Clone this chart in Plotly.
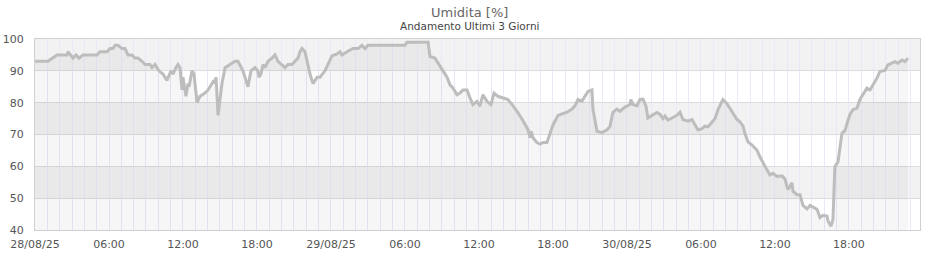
import plotly.graph_objects as go

# hours since 28/08/25 00:00
hours = [0, 1.05, 1.78, 2.59, 2.68, 3.08, 3.32, 3.57, 3.89, 5.03, 5.27, 5.84, 6.08, 6.32, 6.49, 6.73,
         7.05, 7.30, 7.54, 7.86, 8.11, 8.35, 8.68, 8.92, 9.32, 9.49, 9.73, 10.05, 10.38, 10.70, 11.03,
         11.19, 11.43, 11.59, 11.76, 11.92, 12.00, 12.24, 12.41, 12.49, 12.73, 12.89, 13.14, 13.38,
         13.78, 14.03, 14.35, 14.51, 14.59, 14.68, 14.84, 15.16, 15.41, 15.81, 16.22, 16.46, 16.86,
         17.19, 17.27, 17.51, 17.84, 18.08, 18.16, 18.32, 18.49, 18.65, 18.89, 19.22, 19.46, 19.70,
         20.03, 20.27, 20.51, 20.84, 21.08, 21.32, 21.49, 21.65, 21.89, 22.05, 22.30, 22.54, 22.87,
         23.11, 23.51, 24.08, 24.49, 24.73, 24.89, 25.30, 25.78, 26.19, 26.51, 26.76, 27.00, 30.00,
         30.16, 31.87, 32.03, 32.43, 32.68, 33.08, 33.41, 33.65, 33.89, 34.22, 34.46, 34.70, 35.03,
         35.27, 35.51, 35.84, 36.08, 36.32, 36.65, 36.97, 37.22, 37.54, 37.95, 38.35, 38.76, 39.16,
         39.57, 39.97, 40.14, 40.22, 40.38, 40.70, 40.95, 41.19, 41.51, 41.76, 42.00, 42.41, 42.81,
         43.14, 43.54, 43.78, 44.03, 44.35, 44.59, 44.84, 45.16, 45.24, 45.57, 45.97, 46.38, 46.62,
         46.86, 47.19, 47.43, 47.84, 48.24, 48.32, 48.49, 48.81, 49.05, 49.30, 49.54, 49.70, 50.03,
         50.43, 50.68, 50.92, 51.08, 51.33, 51.65, 52.05, 52.30, 52.54, 52.95, 53.27, 53.51, 53.76,
         54.08, 54.32, 54.57, 54.89, 55.14, 55.38, 55.78, 56.11, 56.35, 56.59, 56.92, 57.16, 57.41,
         57.57, 57.81, 58.14, 58.54, 58.78, 59.03, 59.35, 59.59, 59.84, 60.16, 60.57, 60.81, 60.97,
         61.05, 61.38, 61.46, 61.78, 62.03, 62.27, 62.59, 62.84, 63.08, 63.41, 63.65, 63.89, 64.22,
         64.30, 64.54, 64.70, 64.86, 65.11, 65.43, 65.68, 65.92, 66.08, 66.32, 66.65, 66.89, 67.14,
         67.46, 67.70, 67.95, 68.27, 68.51, 68.92, 69.16, 69.49, 69.73, 69.97, 70.30, 70.54, 70.78]

humidity = [93, 93, 95, 95, 96, 94, 95, 94, 95, 95, 96, 96, 97, 97, 98, 98,
            97, 97, 95, 95, 94, 94, 93, 92, 92, 91, 92, 90, 89, 87, 90,
            89, 91, 92, 91, 84, 88, 82, 86, 85, 90, 89, 80, 82,
            83, 84, 86, 87, 86, 88, 76, 86, 91, 92, 93, 93, 90,
            86, 85, 90, 91, 90, 88, 89, 92, 91, 93, 94, 95, 93,
            92, 91, 92, 92, 93, 94, 96, 97, 96, 93, 89, 86, 88,
            88, 90, 94.7, 95.3, 96, 95, 96, 97, 97, 98, 97, 98, 98,
            99, 99, 94.5, 94, 92.4, 90.3, 88, 85.6, 84.6, 82.5, 83, 84, 84,
            81.5, 79.4, 80.4, 78.9, 82.5, 80.4, 79.4, 83, 82, 81.5, 81, 79, 76.9,
            74.3, 71.6, 69, 71, 69, 67.5, 67, 67.5, 67.5, 70.4, 73, 76, 76.5,
            77, 78, 79, 81, 80.5, 82, 83.5, 84, 78, 71, 70.6, 71.5, 72.5,
            77, 78, 77.3, 78.6, 79.4, 81, 79.4, 79, 81, 81.1, 78.9, 75.2, 76,
            76.9, 76.3, 75, 75.8, 74.5, 75.2, 76, 77, 74.7, 74.2, 74.7, 73.1, 71.4,
            71.8, 72.6, 72.4, 73.9, 75, 77.8, 81, 79.7, 78.3, 76.8, 74.7, 74, 72.6,
            70.3, 67.7, 66.7, 65.1, 63, 61, 58.9, 57.3, 57.8, 56.8, 57, 56, 54.2,
            52.7, 54.8, 52.2, 51.1, 51.1, 47.7, 46.6, 47.7, 47.3, 46.5, 43.9, 44.6, 44.4,
            42.8, 41.2, 43.3, 59.9, 61.4, 70.3, 71.3, 74.4, 76.3, 77.8, 78.3, 81, 82.5,
            84.6, 84, 85.6, 87.7, 89.8, 90.1, 91.9, 92.4, 92.9, 92.4, 93.4, 92.9, 94]

tick_hours = [0, 6, 12, 18, 24, 30, 36, 42, 48, 54, 60, 66]
tick_labels = ["28/08/25", "06:00", "12:00", "18:00", "29/08/25", "06:00", "12:00", "18:00",
               "30/08/25", "06:00", "12:00", "18:00"]
band_ranges = [(90, 100), (70, 80), (50, 60)]

fig = go.Figure()
fig.add_trace(go.Scatter(
    x=hours, y=humidity, mode="lines",
    line=dict(color="#BDBDBD", width=3),
    fill="tozeroy", fillcolor="rgba(0,0,0,0.035)",
    hoverinfo="skip", showlegend=False,
))

for y0, y1 in band_ranges:
    fig.add_shape(type="rect", xref="paper", x0=0, x1=1, y0=y0, y1=y1, yref="y",
                  fillcolor="#F2F2F2", line_width=0, layer="below")

font = "DejaVu Sans, sans-serif"
fig.update_layout(
    width=940, height=260,
    margin=dict(l=35, r=20, t=39, b=30),
    paper_bgcolor="white", plot_bgcolor="white",
    font=dict(family=font, size=11, color="#555555"),
    showlegend=False,
    annotations=[
        dict(text="Umidita [%]", xref="paper", yref="paper", x=0.4915, y=1.141,
             xanchor="center", yanchor="middle", showarrow=False,
             font=dict(family=font, size=13, color="#666666")),
        dict(text="Andamento Ultimi 3 Giorni", xref="paper", yref="paper", x=0.4915, y=1.068,
             xanchor="center", yanchor="middle", showarrow=False,
             font=dict(family=font, size=10.5, color="#444444")),
    ],
)
fig.update_xaxes(
    range=[0, 71.76], tickmode="array", tickvals=tick_hours, ticktext=tick_labels,
    showgrid=True, gridcolor="#E9E9F7", gridwidth=1,
    minor=dict(dtick=1, tick0=0, showgrid=True, gridcolor="#E9E9F7", gridwidth=1),
    showline=True, linecolor="#D0D0D0", linewidth=1, mirror=True,
    ticks="", zeroline=False, ticklabelstandoff=4, automargin=False,
)
fig.update_yaxes(
    range=[40, 100], dtick=10, tick0=40,
    showgrid=True, gridcolor="#DCDCDC", gridwidth=1,
    showline=True, linecolor="#D0D0D0", linewidth=1, mirror=True,
    ticks="", zeroline=False, ticklabelstandoff=8, automargin=False,
)

fig.write_html("out.html")
